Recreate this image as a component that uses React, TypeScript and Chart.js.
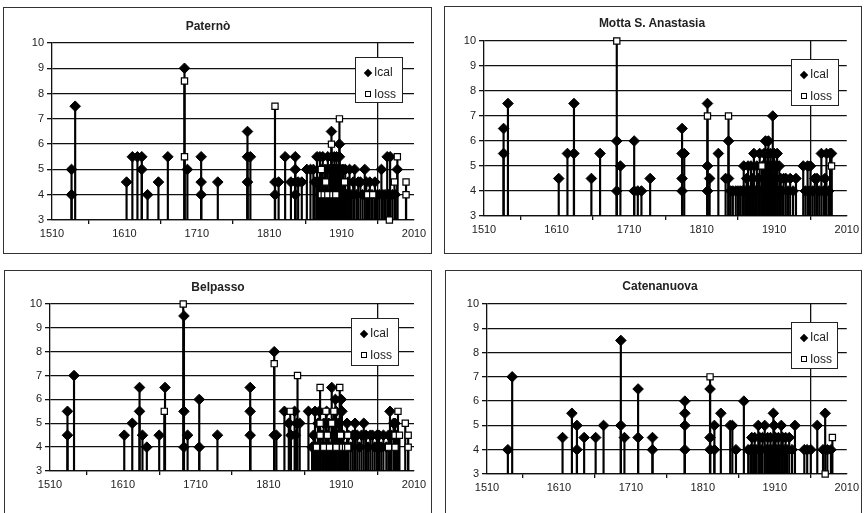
import React, { useEffect, useRef } from "react";
import { Chart, registerables } from "chart.js";
Chart.register(...registerables);

const xTicks = [1510, 1610, 1710, 1810, 1910, 2010];
const yMin = 3;
const yMax = 10;
const legendLabels = ["Ical", "Ioss"];

const paternoIcal: [number, number][] = [
  [1537, 5], [1537, 4], [1542, 7.5], [1613, 4.5], [1621, 5.5], [1628, 5.5], [1634, 5.5], [1634, 5],
  [1642, 4], [1657, 4.5], [1670, 5.5], [1693, 9], [1697, 5], [1716, 5.5], [1716, 4.5], [1716, 4],
  [1739, 4.5], [1780, 6.5], [1780, 5.5], [1780, 4.5], [1784, 5.5], [1818, 4.5], [1818, 4], [1823, 4.5],
  [1832, 5.5], [1840, 4.5], [1846, 5.5], [1846, 5], [1846, 4.5], [1846, 4], [1850, 4.5], [1855, 4.5],
  [1862, 5], [1867, 5], [1871, 5], [1873, 4.5], [1876, 5.5], [1878, 4.5], [1880, 5.5], [1880, 4],
  [1882, 5], [1884, 5.5], [1884, 4], [1886, 4.5], [1887, 5], [1889, 4], [1890, 5], [1891, 5.5],
  [1892, 4], [1894, 5], [1895, 4.5], [1896, 6.5], [1896, 5.5], [1897, 4], [1898, 5], [1899, 5],
  [1900, 5.5], [1901, 4], [1902, 5], [1903, 5.5], [1904, 4], [1905, 5], [1906, 4.5], [1907, 6],
  [1907, 5.5], [1908, 4], [1909, 5], [1910, 4], [1911, 4.5], [1912, 5], [1913, 4], [1915, 5],
  [1917, 4], [1919, 4.5], [1921, 5], [1923, 4], [1926, 4.5], [1928, 5], [1931, 4], [1933, 4.5],
  [1936, 4.5], [1939, 4], [1942, 5], [1944, 4.5], [1947, 4], [1949, 4.5], [1952, 4], [1956, 4.5],
  [1959, 4], [1962, 4], [1965, 5], [1967, 4], [1970, 4], [1973, 5.5], [1975, 4], [1977, 5.5],
  [1980, 4], [1984, 4], [1987, 5],
];
const paternoIoss: [number, number][] = [
  [1693, 8.5], [1693, 5.5], [1818, 7.5], [1882, 5], [1882, 4], [1886, 4], [1888, 4.5], [1891, 4],
  [1896, 6], [1898, 4], [1902, 4], [1907, 7], [1914, 4.5], [1946, 4], [1953, 4], [1976, 3],
  [1983, 4.5], [1987, 5.5], [1999, 4.5], [1999, 4],
];

const mottaIcal: [number, number][] = [
  [1537, 6.5], [1537, 5.5], [1543, 7.5], [1613, 4.5], [1625, 5.5], [1634, 7.5], [1634, 5.5], [1658, 4.5],
  [1670, 5.5], [1693, 6], [1693, 4], [1698, 5], [1717, 6], [1717, 4], [1722, 4], [1727, 4],
  [1739, 4.5], [1783, 6.5], [1783, 5.5], [1783, 4.5], [1783, 4], [1786, 5.5], [1818, 7.5], [1818, 5],
  [1818, 4], [1821, 4.5], [1833, 5.5], [1843, 4.5], [1847, 6], [1847, 4.5], [1850, 4], [1853, 4],
  [1857, 4], [1860, 4], [1863, 4], [1866, 4], [1868, 5], [1870, 4], [1872, 4.5], [1874, 5],
  [1876, 4], [1878, 5], [1880, 4.5], [1882, 5.5], [1884, 4], [1886, 5], [1888, 4.5], [1890, 5.5],
  [1892, 4], [1894, 5], [1896, 5.5], [1897, 4], [1898, 6], [1899, 5], [1900, 4.5], [1901, 5.5],
  [1902, 6], [1903, 4], [1904, 5], [1905, 5.5], [1906, 4.5], [1907, 5], [1908, 7], [1909, 4],
  [1910, 5.5], [1911, 4.5], [1912, 5], [1914, 5.5], [1915, 4], [1917, 5], [1919, 4.5], [1921, 4],
  [1923, 4.5], [1926, 4.5], [1929, 4], [1932, 4.5], [1936, 4], [1940, 4.5], [1950, 5], [1953, 4],
  [1956, 5], [1958, 4], [1960, 5], [1963, 4], [1966, 4.5], [1969, 4.5], [1972, 4], [1975, 5.5],
  [1978, 4], [1980, 4.5], [1982, 5.5], [1985, 4], [1987, 5.5], [1989, 5.5],
];
const mottaIoss: [number, number][] = [
  [1693, 10], [1818, 7], [1847, 7], [1893, 5], [1989, 5],
];

const belpassoIcal: [number, number][] = [
  [1534, 5.5], [1534, 4.5], [1543, 7], [1612, 4.5], [1623, 5], [1633, 6.5], [1633, 5.5], [1637, 4.5],
  [1643, 4], [1660, 4.5], [1668, 6.5], [1694, 9.5], [1694, 5.5], [1694, 4], [1699, 4.5], [1715, 6],
  [1715, 4], [1740, 4.5], [1785, 6.5], [1785, 5.5], [1785, 4.5], [1818, 8], [1818, 4.5], [1821, 4.5],
  [1832, 5.5], [1838, 5], [1841, 4.5], [1846, 5.5], [1847, 4.5], [1849, 5], [1853, 5], [1865, 5.5],
  [1870, 4], [1872, 4.5], [1874, 5.5], [1876, 4], [1878, 5], [1880, 5.5], [1882, 4], [1884, 4.5],
  [1886, 5], [1888, 4], [1890, 5.5], [1891, 4.5], [1893, 5], [1895, 4], [1897, 6.5], [1898, 5],
  [1900, 4], [1902, 6], [1903, 5.5], [1904, 4.5], [1906, 5], [1908, 4], [1910, 6], [1911, 5.5],
  [1913, 4.5], [1915, 4], [1918, 5], [1920, 4.5], [1923, 4], [1926, 4.5], [1929, 5], [1932, 4.5],
  [1935, 4], [1938, 4.5], [1941, 5], [1944, 4.5], [1947, 4], [1950, 4.5], [1953, 4.5], [1956, 4],
  [1959, 4.5], [1962, 4.5], [1965, 4], [1968, 4.5], [1972, 4], [1975, 4.5], [1977, 5.5], [1979, 4.5],
  [1982, 5], [1984, 5], [1986, 4.5],
];
const belpassoIoss: [number, number][] = [
  [1667, 5.5], [1693, 10], [1818, 7.5], [1840, 5.5], [1850, 7], [1876, 4], [1881, 6.5], [1881, 5],
  [1881, 4.5], [1886, 4], [1889, 5.5], [1891, 4.5], [1894, 4], [1897, 5], [1900, 5.5], [1903, 4],
  [1908, 6.5], [1909, 4.5], [1912, 4], [1916, 4], [1919, 4.5], [1919, 4], [1975, 4], [1984, 4.5],
  [1984, 4], [1988, 5.5], [1990, 4.5], [1998, 5], [2002, 4.5], [2002, 4],
];

const catenanuovaIcal: [number, number][] = [
  [1539, 4], [1545, 7], [1615, 4.5], [1628, 5.5], [1635, 5], [1635, 4], [1645, 4.5], [1661, 4.5],
  [1672, 5], [1696, 8.5], [1696, 5], [1701, 4.5], [1720, 6.5], [1720, 4.5], [1740, 4.5], [1740, 4],
  [1785, 6], [1785, 5.5], [1785, 5], [1785, 4], [1820, 6.5], [1820, 4.5], [1820, 4], [1826, 5],
  [1826, 4], [1835, 5.5], [1848, 5], [1851, 5], [1856, 4], [1867, 6], [1873, 4], [1876, 4],
  [1878, 4.5], [1880, 4], [1882, 4.5], [1884, 4], [1887, 5], [1889, 4.5], [1891, 4], [1893, 4.5],
  [1896, 5], [1898, 4], [1900, 4.5], [1902, 4], [1904, 4.5], [1906, 4], [1908, 5.5], [1909, 5],
  [1911, 4.5], [1913, 4], [1915, 4.5], [1917, 4], [1919, 5], [1921, 4.5], [1923, 4], [1925, 4.5],
  [1927, 4], [1930, 4.5], [1934, 4], [1938, 5], [1951, 4], [1955, 4], [1960, 4], [1969, 5],
  [1977, 4], [1980, 5.5], [1983, 4], [1988, 4],
];
const catenanuovaIoss: [number, number][] = [
  [1820, 7], [1980, 3], [1990, 4.5],
];

type Box = { left: number; top: number; w: number; h: number };
type Area = { l: number; t: number; r: number; b: number };

const FONT = "'Liberation Sans', Arial, sans-serif";

function Panel(props: {
  title: string;
  ical: [number, number][];
  ioss: [number, number][];
  box: Box;
  plot: Area;
  titleAt: { x: number; y: number };
  legend: Box;
}) {
  const { title, ical, ioss, box, plot, titleAt, legend } = props;
  const ref = useRef<HTMLCanvasElement | null>(null);

  useEffect(() => {
    if (!ref.current) return;
    const L = plot.l - box.left;
    const T = plot.t - box.top;
    const R = box.left + box.w - plot.r;
    const B = box.h - (plot.b - box.top);
    const stems = [...ical, ...ioss].map(([x, v]) => ({ x, y: [yMin, v] }));
    const chart = new Chart(ref.current, {
      type: "bar",
      data: {
        datasets: [
          {
            type: "bar",
            label: "stem",
            data: stems as any,
            backgroundColor: "#000",
            borderWidth: 0,
            barThickness: 1.5,
            grouped: false,
            order: 3,
          } as any,
          {
            type: "scatter",
            label: legendLabels[0],
            data: ical.map(([x, y]) => ({ x, y })),
            pointStyle: "rectRot",
            pointRadius: 5.3,
            backgroundColor: "#000",
            borderColor: "#000",
            borderWidth: 1,
            order: 2,
            clip: false,
          } as any,
          {
            type: "scatter",
            label: legendLabels[1],
            data: ioss.map(([x, y]) => ({ x, y })),
            pointStyle: "rect",
            pointRadius: 4.4,
            backgroundColor: "#fff",
            borderColor: "#000",
            borderWidth: 1.2,
            order: 1,
            clip: false,
          } as any,
        ],
      },
      options: {
        responsive: false,
        maintainAspectRatio: false,
        animation: false,
        events: [],
        layout: { padding: { left: 0, top: T, right: R, bottom: 0 } },
        plugins: {
          legend: { display: false },
          tooltip: { enabled: false },
          title: { display: false },
        },
        scales: {
          x: {
            type: "linear",
            min: xTicks[0],
            max: xTicks[xTicks.length - 1],
            offset: false,
            afterBuildTicks: (s: any) => {
              s.ticks = xTicks.map((v) => ({ value: v }));
            },
            afterFit: (s: any) => {
              s.height = B;
            },
            grid: {
              color: (c: any) =>
                c.tick && c.tick.value === xTicks[xTicks.length - 1] ? "#111" : "rgba(0,0,0,0)",
              tickColor: "#111",
              drawTicks: true,
              tickLength: 4,
              lineWidth: 1.3,
            },
            border: { display: true, color: "#111", width: 1.3 },
            ticks: {
              font: { family: FONT, size: 11 },
              color: "#222",
              padding: 3,
              maxRotation: 0,
              autoSkip: false,
              callback: (v: any) => String(v),
            },
          },
          y: {
            type: "linear",
            min: yMin,
            max: yMax,
            afterFit: (s: any) => {
              s.width = L;
            },
            grid: {
              color: "#111",
              tickColor: "#111",
              lineWidth: 1.3,
              drawTicks: true,
              tickLength: 5,
            },
            border: { display: true, color: "#111", width: 1.3 },
            ticks: {
              stepSize: 1,
              font: { family: FONT, size: 11 },
              color: "#222",
              padding: 3,
            },
          },
        } as any,
      },
    } as any);
    return () => chart.destroy();
  }, []);

  return (
    <>
      <canvas
        ref={ref}
        width={box.w}
        height={box.h}
        style={{ position: "absolute", left: box.left, top: box.top, width: box.w, height: box.h }}
      />
      <div
        style={{
          position: "absolute",
          left: box.left,
          top: box.top,
          width: box.w,
          height: box.h,
          boxSizing: "border-box",
          border: "1px solid #333",
          pointerEvents: "none",
        }}
      />
      <div
        style={{
          position: "absolute",
          left: titleAt.x - 120,
          width: 240,
          top: titleAt.y - 8,
          height: 16,
          lineHeight: "16px",
          textAlign: "center",
          fontFamily: FONT,
          fontWeight: "bold",
          fontSize: 12,
          color: "#222",
        }}
      >
        {title}
      </div>
      <div
        style={{
          position: "absolute",
          left: legend.left,
          top: legend.top,
          width: legend.w,
          height: legend.h,
          boxSizing: "border-box",
          border: "1px solid #222",
          background: "#fff",
          fontFamily: FONT,
          fontSize: 12,
          color: "#222",
        }}
      >
        <div style={{ position: "absolute", left: 9, top: 12, width: 6, height: 6, background: "#000", transform: "rotate(45deg)" }} />
        <div style={{ position: "absolute", left: 18, top: 7, lineHeight: "14px" }}>{legendLabels[0]}</div>
        <div
          style={{
            position: "absolute",
            left: 9,
            top: 33,
            width: 6,
            height: 6,
            boxSizing: "border-box",
            border: "1px solid #000",
            background: "#fff",
          }}
        />
        <div style={{ position: "absolute", left: 18, top: 29, lineHeight: "14px" }}>{legendLabels[1]}</div>
      </div>
    </>
  );
}

export default function App() {
  return (
    <div
      style={{
        position: "fixed",
        left: 0,
        top: 0,
        width: 865,
        height: 513,
        background: "#fff",
        overflow: "hidden",
      }}
    >
      <Panel
        title="Paternò"
        ical={paternoIcal}
        ioss={paternoIoss}
        box={{ left: 3, top: 7, w: 429, h: 247 }}
        plot={{ l: 52, t: 43, r: 414, b: 220 }}
        titleAt={{ x: 208, y: 26 }}
        legend={{ left: 355, top: 57, w: 48, h: 46 }}
      />
      <Panel
        title="Motta S. Anastasia"
        ical={mottaIcal}
        ioss={mottaIoss}
        box={{ left: 444, top: 6, w: 418, h: 248 }}
        plot={{ l: 484, t: 41, r: 848, b: 216 }}
        titleAt={{ x: 652, y: 23 }}
        legend={{ left: 791, top: 59, w: 48, h: 47 }}
      />
      <Panel
        title="Belpasso"
        ical={belpassoIcal}
        ioss={belpassoIoss}
        box={{ left: 4, top: 270, w: 428, h: 250 }}
        plot={{ l: 50, t: 304, r: 414, b: 471 }}
        titleAt={{ x: 218, y: 287 }}
        legend={{ left: 351, top: 318, w: 48, h: 48 }}
      />
      <Panel
        title="Catenanuova"
        ical={catenanuovaIcal}
        ioss={catenanuovaIoss}
        box={{ left: 445, top: 270, w: 417, h: 250 }}
        plot={{ l: 487, t: 304, r: 849, b: 474 }}
        titleAt={{ x: 660, y: 286 }}
        legend={{ left: 791, top: 322, w: 47, h: 47 }}
      />
    </div>
  );
}
